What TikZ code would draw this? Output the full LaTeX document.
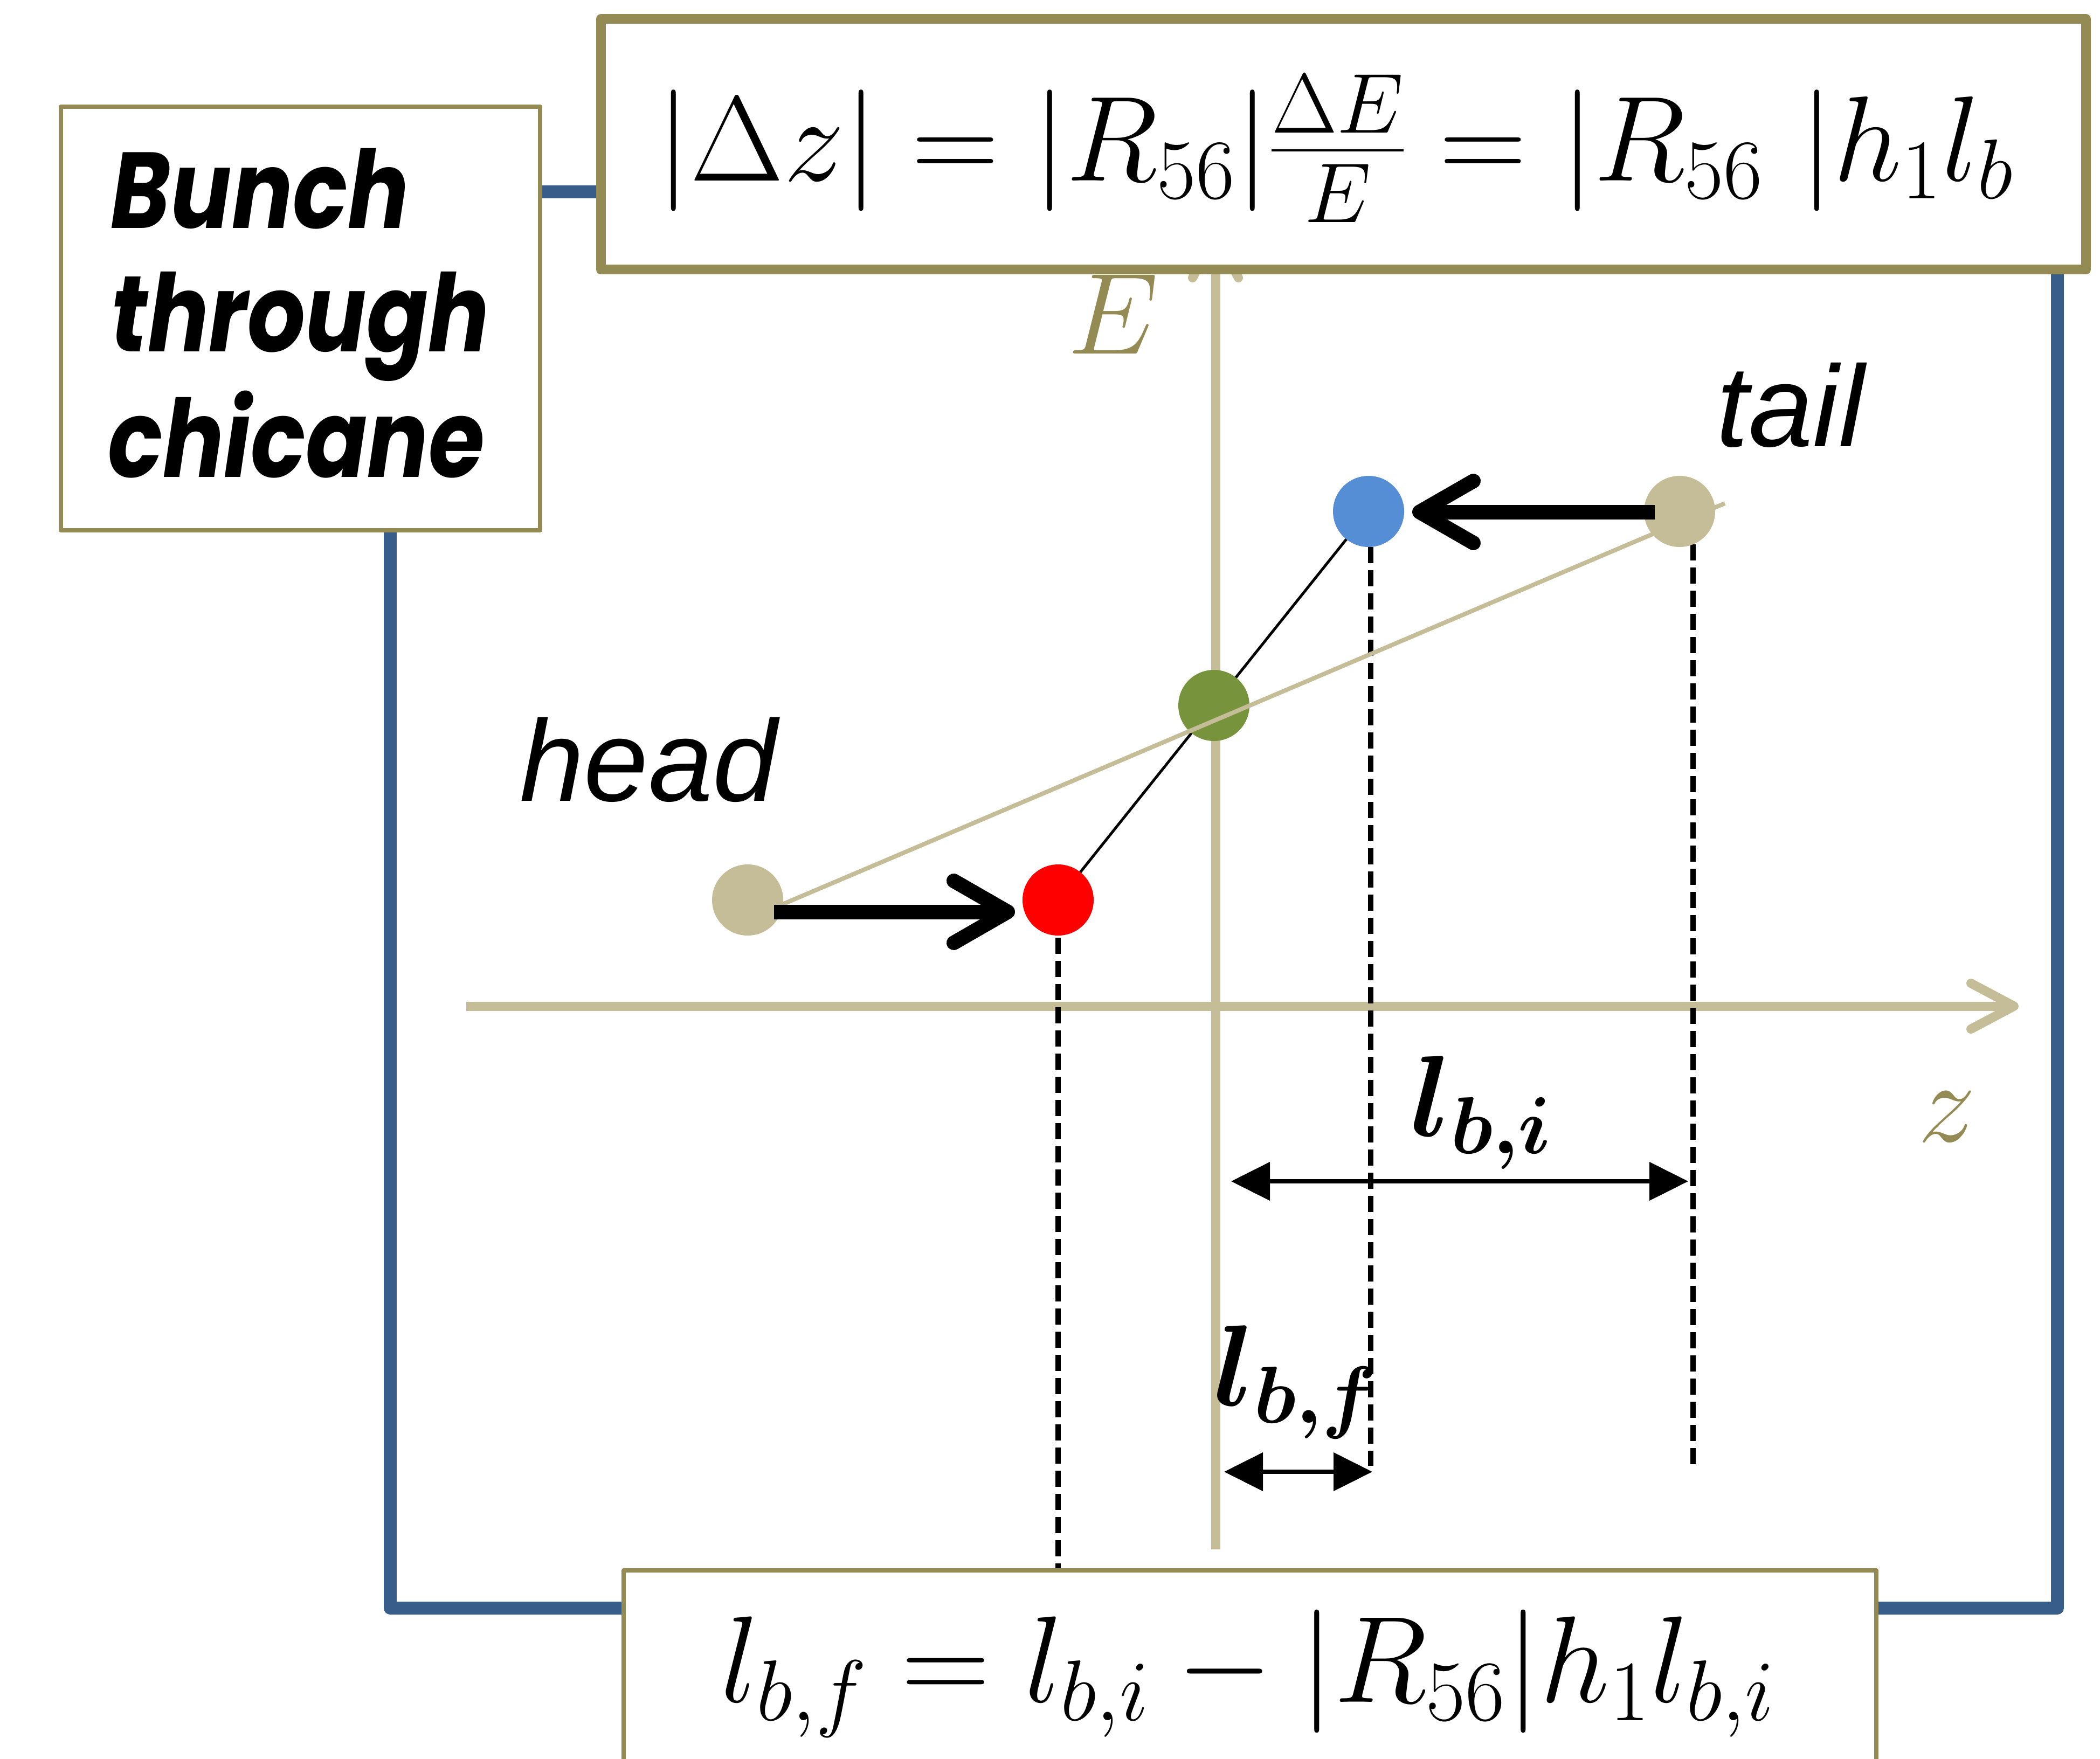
\RequirePackage{fix-cm}
\documentclass[tikz,border=0pt]{standalone}
\usepackage{fontspec}
\usepackage{amsmath}
\usepackage{bm}
\usepackage{graphicx}
\newfontfamily\comicfont{Poppins}
\newfontfamily\helvfont{Liberation Sans}
\usetikzlibrary{arrows.meta}
\definecolor{olive}{HTML}{948A54}
\definecolor{tanc}{HTML}{C4BD97}
\definecolor{frameblue}{HTML}{385D8A}
\definecolor{dotblue}{HTML}{558ED5}
\definecolor{dotgreen}{HTML}{77933C}
\newcommand{\bigsz}{\fontsize{61}{70}\selectfont}
\newcommand{\topsz}{\fontsize{64}{72}\selectfont}
\newcommand{\botsz}{\fontsize{65}{72}\selectfont}
\newcommand{\cmc}[1]{\scalebox{0.84}[1]{#1}}
\tikzset{
  boxthin/.style={draw=olive, fill=white, line width=0.08cm, line join=round, inner sep=0pt, anchor=north west},
  boxthick/.style={draw=olive, fill=white, line width=0.18cm, line join=round, inner sep=0pt, anchor=north west},
  dotnode/.style={circle, minimum size=1.32cm, inner sep=0pt},
  dashv/.style={line width=0.1cm, dash pattern=on 0.3cm off 0.13cm},
  axisline/.style={draw=tanc, line width=0.17cm, line cap=butt, -{Straight Barb[length=0.8cm,width=0.85cm,round]}},
  pusharrow/.style={line width=0.27cm, -{Straight Barb[length=1.0cm,width=1.15cm,round]}},
  dimarrow/.style={line width=0.08cm, {Triangle[length=0.72cm,width=0.7cm]}-{Triangle[length=0.72cm,width=0.7cm]}},
  lbl/.style={inner sep=0pt, font=\bigsz},
  comictext/.style={inner sep=0pt, anchor=base west, font={\fontsize{57}{65.6}\selectfont\comicfont\bfseries\itshape}}
}
\begin{document}
\begin{tikzpicture}
\useasboundingbox (0,0) rectangle (38.96,-32.64);
\clip (0,0) rectangle (38.96,-32.64);
% blue frame
\draw[frameblue, line width=0.24cm, line join=round] (7.24,-3.56) rectangle (38.17,-29.84);
% axes
\coordinate (zstart) at (8.65,-18.67);
\coordinate (zend) at (37.45,-18.67);
\coordinate (Estart) at (22.55,-28.75);
\coordinate (Eend) at (22.55,-4.27);
\draw[axisline] (zstart) -- (zend);
\draw[axisline] (Estart) -- (Eend);
% dots positions
\coordinate (headc) at (13.87,-16.70);
\coordinate (redc) at (19.63,-16.70);
\coordinate (greenc) at (22.52,-13.09);
\coordinate (bluec) at (25.39,-9.49);
\coordinate (tailc) at (31.16,-9.49);
% dashed lines
\coordinate (rd1) at (19.63,-17.40);
\coordinate (rd2) at (19.63,-29.10);
\coordinate (bd1) at (25.43,-10.15);
\coordinate (bd2) at (25.43,-27.20);
\coordinate (td1) at (31.41,-10.10);
\coordinate (td2) at (31.41,-27.20);
\draw[dashv] (rd1) -- (rd2);
\draw[dashv] (bd1) -- (bd2);
\draw[dashv] (td1) -- (td2);
% black thin line
\draw[line width=0.05cm] (redc) -- (bluec);
% dots
\node[dotnode, fill=tanc] (head) at (headc) {};
\node[dotnode, fill=red] (red) at (redc) {};
\node[dotnode, fill=dotgreen] (green) at (greenc) {};
\node[dotnode, fill=dotblue] (blue) at (bluec) {};
\node[dotnode, fill=tanc] (tail) at (tailc) {};
% tan bunch line
\coordinate (tl1) at (14.40,-16.83);
\coordinate (tl2) at (32.00,-9.34);
\draw[tanc, line width=0.08cm] (tl1) -- (tl2);
% push arrows
\coordinate (pa1) at (14.36,-16.92);
\coordinate (pa2) at (18.83,-16.92);
\coordinate (pb1) at (30.70,-9.50);
\coordinate (pb2) at (26.20,-9.50);
\draw[pusharrow] (pa1) -- (pa2);
\draw[pusharrow] (pb1) -- (pb2);
% dimension arrows
\coordinate (di1) at (22.84,-21.92);
\coordinate (di2) at (31.32,-21.92);
\coordinate (df1) at (22.71,-27.31);
\coordinate (df2) at (25.46,-27.31);
\draw[dimarrow] (di1) -- (di2);
\draw[dimarrow] (df1) -- (df2);
% labels
\node[lbl, anchor=base] (lbi) at (27.48,-21.08) {$\bm{l_{b,i}}$};
\node[lbl, anchor=base] (lbf) at (24.04,-26.08) {$\bm{l_{b,f}}$};
\node[lbl, anchor=base, text=olive] (Elab) at (20.65,-6.56) {$E$};
\node[lbl, anchor=base, text=olive] (zlab) at (36.12,-21.18) {$z$};
\node[lbl, anchor=base west, font=\bigsz\helvfont\itshape] (headlab) at (9.64,-14.86) {head};
\node[lbl, anchor=base west, font=\bigsz\helvfont\itshape] (taillab) at (31.84,-8.28) {tail};
% boxes
\node[boxthin, minimum width=8.89cm, minimum height=7.86cm] (leftbox) at (1.09,-1.94) {};
\node[boxthick, minimum width=27.55cm, minimum height=4.65cm] (topbox) at (11.06,-0.26) {};
\node[boxthin, minimum width=23.24cm, minimum height=5.0cm] (botbox) at (11.53,-29.10) {};
% texts in boxes
\node[comictext] (lt1) at (2.05,-4.23) {\cmc{Bunch}};
\node[comictext] (lt2) at (2.05,-6.52) {\cmc{through}};
\node[comictext] (lt3) at (2.00,-8.85) {\cmc{chicane}};
\node[inner sep=0pt, anchor=base, font=\topsz] (topformula) at (24.77,-3.35) {$|\Delta z| = |R_{56}|\frac{\Delta E}{E} = |R_{56}\ |h_1 l_b$};
\node[inner sep=0pt, anchor=base, font=\botsz] (botformula) at (23.15,-31.58) {$l_{b,f} = l_{b,i} - |R_{56}|h_1 l_{b,i}$};
\end{tikzpicture}
\end{document}
